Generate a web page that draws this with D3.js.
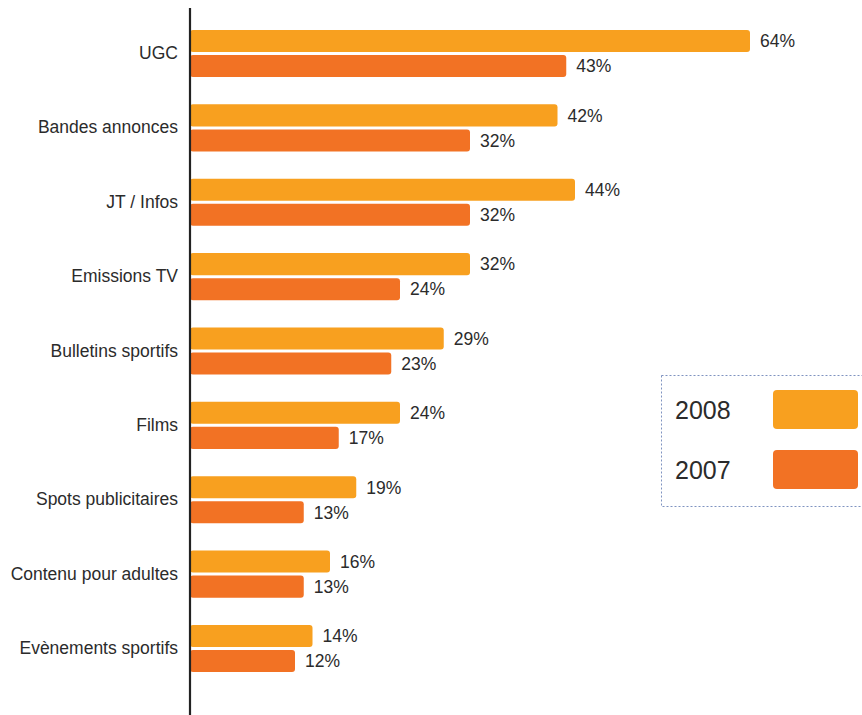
<!DOCTYPE html>
<html>
<head>
<meta charset="utf-8">
<script src="https://cdn.jsdelivr.net/npm/d3@7"></script>
<style>
  html, body { margin: 0; padding: 0; background: #fff; }
  svg { display: block; }
  text { font-family: "Liberation Sans", Arial, sans-serif; fill: #2b2b2b; }
</style>
</head>
<body>
<svg id="chart" width="862" height="715"></svg>
<script>
// Types de vidéos regardées en ligne, 2008 vs 2007 (%)
const categories = [
  "UGC",
  "Bandes annonces",
  "JT / Infos",
  "Emissions TV",
  "Bulletins sportifs",
  "Films",
  "Spots publicitaires",
  "Contenu pour adultes",
  "Evènements sportifs"
];
const series = ["2008", "2007"];
const values2008 = [64, 42, 44, 32, 29, 24, 19, 16, 14];
const values2007 = [43, 32, 32, 24, 23, 17, 13, 13, 12];
const seriesColors = ["#F8A01F", "#F27224"];

const rows = categories.map((c, i) => ({
  category: c,
  bars: [
    { key: series[0], value: values2008[i] },
    { key: series[1], value: values2007[i] }
  ]
}));

const svg = d3.select("#chart");
const axisX = 190;

const x = d3.scaleLinear().domain([0, 64]).range([axisX, 750]);
const y = d3.scaleBand().domain(categories).range([30, 672])
  .paddingInner(0.368).paddingOuter(0);
const yInner = d3.scaleBand().domain(series).range([0, y.bandwidth()])
  .paddingInner(0.12).paddingOuter(0);
const color = d3.scaleOrdinal().domain(series).range(seriesColors);

// bars
const groups = svg.append("g").selectAll("g")
  .data(rows).join("g")
  .attr("transform", d => `translate(0,${y(d.category)})`);

groups.selectAll("rect")
  .data(d => d.bars).join("rect")
  .attr("x", x(0))
  .attr("y", d => yInner(d.key))
  .attr("width", d => x(d.value) - x(0))
  .attr("height", yInner.bandwidth())
  .attr("rx", 3).attr("ry", 3)
  .attr("fill", d => color(d.key));

// value labels
groups.selectAll("text.val")
  .data(d => d.bars).join("text")
  .attr("class", "val")
  .attr("x", d => x(d.value) + 10)
  .attr("y", d => yInner(d.key) + yInner.bandwidth() / 2)
  .attr("dy", "0.36em")
  .attr("font-size", 17.5)
  .text(d => d.value + "%");

// category axis
const yAxis = d3.axisLeft(y).tickSize(0).tickPadding(12);
const axisG = svg.append("g")
  .attr("transform", `translate(${axisX},0)`)
  .call(yAxis);
axisG.select(".domain").remove();
axisG.selectAll("text")
  .attr("font-size", 17.5)
  .attr("font-family", "'Liberation Sans', Arial, sans-serif")
  .attr("fill", "#2b2b2b")
  .attr("x", -12);

svg.append("line")
  .attr("x1", axisX).attr("x2", axisX)
  .attr("y1", 8).attr("y2", 715)
  .attr("stroke", "#222").attr("stroke-width", 2.2);

// legend
const legend = svg.append("g");
legend.append("rect")
  .attr("x", 661.5).attr("y", 375.5)
  .attr("width", 220).attr("height", 131)
  .attr("fill", "none")
  .attr("stroke", "#7f93c0")
  .attr("stroke-width", 1)
  .attr("stroke-dasharray", "2,2");

const legendY = d3.scaleBand().domain(series).range([390, 489]).paddingInner(0.35).paddingOuter(0);
const items = legend.selectAll("g.item")
  .data(series).join("g").attr("class", "item");
items.append("rect")
  .attr("x", 773).attr("y", d => legendY(d))
  .attr("width", 85).attr("height", legendY.bandwidth())
  .attr("rx", 4).attr("ry", 4)
  .attr("fill", d => color(d));
items.append("text")
  .attr("x", 675)
  .attr("y", d => legendY(d) + legendY.bandwidth() / 2)
  .attr("dy", "0.36em")
  .attr("font-size", 25)
  .text(d => d);
</script>
</body>
</html>
